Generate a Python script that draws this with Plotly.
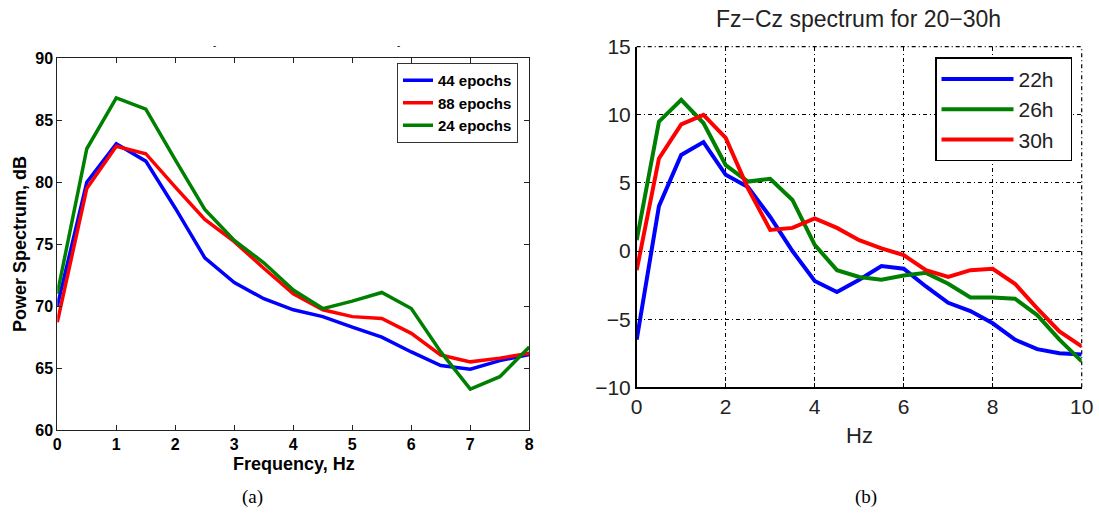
import plotly.graph_objects as go

W, H = 1099, 518

# ---------------- Panel (a) data ----------------
freq_a = [0, 0.5, 1, 1.5, 2, 2.5, 3, 3.5, 4, 4.5, 5, 5.5, 6, 6.5, 7, 7.5, 8]
ep44 = [70.0, 80.0, 83.1, 81.7, 77.9, 73.9, 71.9, 70.6, 69.7, 69.15, 68.3, 67.5, 66.3, 65.2, 64.9, 65.6, 66.1]
ep88 = [68.7, 79.5, 82.9, 82.3, 79.6, 77.0, 75.2, 73.05, 71.0, 69.7, 69.15, 69.0, 67.8, 66.05, 65.5, 65.8, 66.2]
ep24 = [71.0, 82.7, 86.8, 85.9, 81.8, 77.8, 75.3, 73.5, 71.3, 69.8, 70.4, 71.1, 69.8, 66.3, 63.3, 64.3, 66.7]
names_a = ["44 epochs", "88 epochs", "24 epochs"]
xticks_a = [0, 1, 2, 3, 4, 5, 6, 7, 8]
yticks_a = [60, 65, 70, 75, 80, 85, 90]

# ---------------- Panel (b) data ----------------
freq_b = [0, 0.5, 1, 1.5, 2, 2.5, 3, 3.5, 4, 4.5, 5, 5.5, 6, 6.5, 7, 7.5, 8, 8.5, 9, 9.5, 10]
h22 = [-6.5, 3.3, 7.05, 8.0, 5.6, 4.7, 2.5, 0.0, -2.2, -3.0, -2.1, -1.1, -1.3, -2.6, -3.8, -4.4, -5.3, -6.5, -7.2, -7.5, -7.6]
h26 = [0.8, 9.5, 11.1, 9.4, 6.3, 5.1, 5.3, 3.75, 0.45, -1.4, -1.9, -2.1, -1.8, -1.6, -2.4, -3.4, -3.4, -3.5, -4.7, -6.5, -8.1]
h30 = [-1.4, 6.8, 9.3, 10.0, 8.3, 4.6, 1.55, 1.7, 2.4, 1.7, 0.8, 0.2, -0.3, -1.4, -1.9, -1.4, -1.3, -2.4, -4.2, -5.9, -7.0]
names_b = ["22h", "26h", "30h"]
xticks_b = [0, 2, 4, 6, 8, 10]
yticks_b = [-10, -5, 0, 5, 10, 15]

BLUE, RED, GREEN = "#0000FF", "#FF0000", "#008000"
GRID_DASH = "4px,3px,1px,3px"
NBSP = "\u00a0"


def px_x(p):
    return p / W


def px_y(p):
    return 1 - p / H


fig = go.Figure()

for y, nm, c in zip([ep44, ep88, ep24], names_a, [BLUE, RED, GREEN]):
    fig.add_trace(go.Scatter(x=freq_a, y=y, name=nm, mode="lines",
                             line=dict(color=c, width=3.5),
                             xaxis="x", yaxis="y", legend="legend"))

for y, nm, c in zip([h22, h26, h30], names_b, [BLUE, GREEN, RED]):
    fig.add_trace(go.Scatter(x=freq_b, y=y, name=nm + NBSP * 2, mode="lines",
                             line=dict(color=c, width=4),
                             xaxis="x2", yaxis="y2", legend="legend2"))

SANS = "Liberation Sans, Arial, sans-serif"
bold_font = dict(family=SANS, size=16, color="black", weight="bold")
plain_font = dict(family=SANS, size=21, color="#222222")

fig.update_layout(
    width=W, height=H,
    margin=dict(l=0, r=0, t=0, b=0, pad=0, autoexpand=False),
    paper_bgcolor="white", plot_bgcolor="white",
    xaxis=dict(domain=[px_x(57.3), px_x(529.3)], range=[0, 8], tickvals=xticks_a,
               showline=True, mirror="ticks", linecolor="#222", linewidth=1,
               ticks="inside", ticklen=5, tickcolor="#222", automargin=False,
               showgrid=False, zeroline=False, tickfont=bold_font, anchor="y"),
    yaxis=dict(domain=[px_y(430), px_y(58.3)], range=[60, 90], tickvals=yticks_a,
               showline=True, mirror="ticks", linecolor="#222", linewidth=1,
               ticks="inside", ticklen=5, tickcolor="#222", automargin=False,
               showgrid=False, zeroline=False, tickfont=bold_font, anchor="x"),
    xaxis2=dict(domain=[px_x(636.7), px_x(1081.7)], range=[0, 10], tickvals=xticks_b,
                showline=True, linecolor="black", linewidth=1.5,
                ticks="inside", ticklen=5, tickcolor="black", automargin=False,
                showgrid=True, gridcolor="black", gridwidth=1.2, griddash=GRID_DASH,
                zeroline=False, tickfont=plain_font, anchor="y2"),
    yaxis2=dict(domain=[px_y(387.3), px_y(46.7)], range=[-10, 15], tickvals=yticks_b,
                showline=True, linecolor="black", linewidth=1.5,
                ticks="inside", ticklen=5, tickcolor="black", automargin=False,
                showgrid=True, gridcolor="black", gridwidth=1.2, griddash=GRID_DASH,
                zeroline=False, tickfont=plain_font, anchor="x2"),
    legend=dict(x=px_x(397), y=px_y(63), xanchor="left", yanchor="top",
                bgcolor="white", bordercolor="#333", borderwidth=1,
                font=dict(family=SANS, size=15, color="black", weight="bold"),
                tracegroupgap=0),
    legend2=dict(x=px_x(935), y=px_y(57.3), xanchor="left", yanchor="top",
                 bgcolor="white", bordercolor="black", borderwidth=1.5,
                 itemwidth=72,
                 font=dict(family=SANS, size=21, color="#222222"),
                 tracegroupgap=0),
    showlegend=True,
)

# dash-dot frame on top and right edges of panel (b) (grid lines at the range limits)
fig.add_shape(type="line", xref="x2 domain", yref="y2 domain", x0=0, x1=1, y0=1, y1=1,
              line=dict(color="black", width=1.2, dash=GRID_DASH), layer="below")
fig.add_shape(type="line", xref="x2 domain", yref="y2 domain", x0=1, x1=1, y0=0, y1=1,
              line=dict(color="black", width=1.2, dash=GRID_DASH), layer="below")

annos = [
    dict(text="Power Spectrum, dB", x=px_x(20), y=px_y(244), textangle=-90,
         font=dict(family=SANS, size=18, color="black", weight="bold")),
    dict(text="Frequency, Hz", x=px_x(294), y=px_y(464),
         font=dict(family=SANS, size=18, color="black", weight="bold")),
    dict(text="Fz\u2212Cz spectrum for 20\u221230h", x=px_x(858), y=px_y(19),
         font=dict(family=SANS, size=23, color="#222222")),
    dict(text="Hz", x=px_x(859), y=px_y(435),
         font=dict(family=SANS, size=22, color="#222222")),
    dict(text="(a)", x=px_x(252), y=px_y(497),
         font=dict(family="Liberation Serif, DejaVu Serif, serif", size=19, color="black")),
    dict(text="(b)", x=px_x(866), y=px_y(497),
         font=dict(family="Liberation Serif, DejaVu Serif, serif", size=19, color="black")),
    dict(text="-", x=px_x(214), y=px_y(45), font=dict(size=10, color="black")),
    dict(text="-", x=px_x(398), y=px_y(45), font=dict(size=10, color="black")),
]
for a in annos:
    a.update(xref="paper", yref="paper", showarrow=False, xanchor="center", yanchor="middle")
fig.update_layout(annotations=annos)

fig.write_html("out.html")
